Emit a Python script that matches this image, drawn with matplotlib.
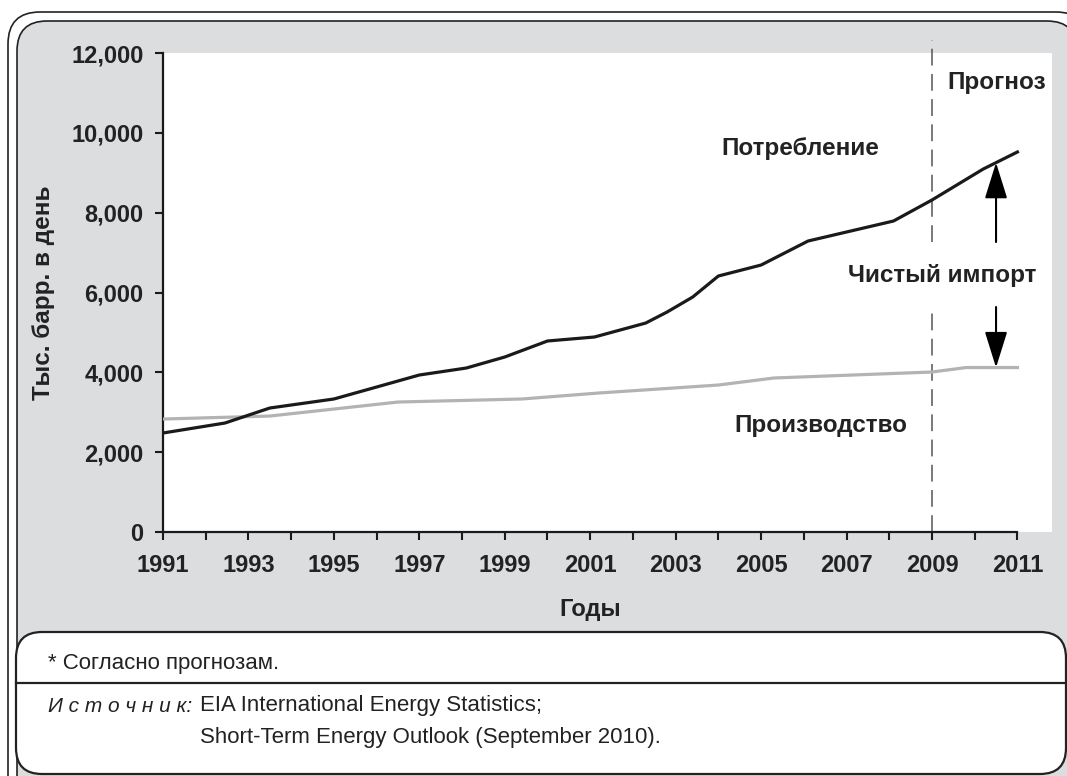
import numpy as np
import matplotlib
matplotlib.use("Agg")
import matplotlib.pyplot as plt
from matplotlib.patches import FancyBboxPatch, ArrowStyle
from matplotlib.transforms import IdentityTransform
from matplotlib.lines import Line2D

plt.rcParams['font.family'] = ['Liberation Sans', 'DejaVu Sans']

# consumption (thousand barrels per day)
cons_years = [1991, 1992.45, 1993.5, 1995, 1996, 1997, 1998.1, 1999, 2000, 2001.1,
              2002.3, 2002.8, 2003.4, 2004, 2005, 2006.1, 2008.1, 2009, 2010.2, 2011]
cons_vals = [2480, 2730, 3106, 3332, 3632, 3933, 4108, 4384, 4785, 4885,
             5235, 5511, 5887, 6413, 6688, 7290, 7791, 8317, 9093, 9520]

# production
prod_years = [1991, 1993.5, 1996.5, 1999.4, 2001.2, 2004.0, 2005.3, 2009.0, 2009.8, 2011]
prod_vals = [2830, 2905, 3256, 3332, 3482, 3682, 3858, 4008, 4120, 4120]

year_ticks = list(range(1991, 2012))
year_labels = [str(y) if (y - 1991) % 2 == 0 else '' for y in year_ticks]
val_ticks = [0, 2000, 4000, 6000, 8000, 10000, 12000]
val_labels = ['0', '2,000', '4,000', '6,000', '8,000', '10,000', '12,000']

forecast_year = 2009
arrow_year = 2010.5

W, H = 1067, 776
fig = plt.figure(figsize=(W / 100, H / 100), dpi=100)
fig.patch.set_facecolor('white')

# frames (pixel coords)
px = IdentityTransform()
fig.patches.append(FancyBboxPatch((8, -40), 1080, 804, boxstyle='round,pad=0,rounding_size=32',
                                  transform=px, facecolor='white', edgecolor='#222222',
                                  lw=1.2, zorder=-12))
fig.patches.append(FancyBboxPatch((17, -30), 1060, 785, boxstyle='round,pad=0,rounding_size=30',
                                  transform=px, facecolor='#dcdddf', edgecolor='#222222',
                                  lw=1.2, zorder=-11))
fig.patches.append(FancyBboxPatch((16, 2), 1050, 142, boxstyle='round,pad=0,rounding_size=26',
                                  transform=px, facecolor='white', edgecolor='#222222',
                                  lw=1.6, zorder=-10))
fig.lines.append(Line2D([16, 1066], [H - 683, H - 683], transform=px, color='#222222',
                        lw=1.6, zorder=-9))

ax = fig.add_axes([163 / W, (H - 532) / H, (1052 - 163) / W, (532 - 53) / H])
ax.set_facecolor('white')

ax.plot(prod_years, prod_vals, color='#b3b3b3', lw=2.3, zorder=3)
ax.plot(cons_years, cons_vals, color='#1a1a1a', lw=2.3, zorder=4)

ax.set_xlim(1991, 1991 + (1052 - 163) / 42.72)
ax.set_ylim(0, 12000)

for s in ['top', 'right']:
    ax.spines[s].set_visible(False)
for s in ['left', 'bottom']:
    ax.spines[s].set_linewidth(1.6)
    ax.spines[s].set_color('#1a1a1a')
ax.spines['bottom'].set_bounds(1991, 2011)

ax.set_xticks(year_ticks)
ax.set_xticklabels(year_labels)
ax.set_yticks(val_ticks)
ax.set_yticklabels(val_labels)
ax.tick_params(axis='both', direction='out', length=6, width=1.5, color='#1a1a1a',
               labelsize=17, labelcolor='#222222')
ax.tick_params(axis='y', pad=8)
ax.tick_params(axis='x', pad=10)
for lab in ax.get_xticklabels() + ax.get_yticklabels():
    lab.set_fontweight('bold')

ax.set_xlabel('Годы', fontsize=17, fontweight='bold', color='#222222')
ax.xaxis.set_label_coords((2001 - 1991) / ((1052 - 163) / 42.72), -0.137)
ax.set_ylabel('Тыс. барр. в день', fontsize=17.5, fontweight='bold', color='#222222')
ax.yaxis.set_label_coords(-0.122, 0.5)

# forecast dashed line, broken around the label
tail_up, tail_down = 7265, 5636
dash_kw = dict(color='#555555', lw=1.1, dashes=(11, 5.5), clip_on=False, zorder=2)
ax.plot([forecast_year, forecast_year], [tail_up, 12325], **dash_kw)
ax.plot([forecast_year, forecast_year], [0, tail_down], **dash_kw)

# net import arrows
style = ArrowStyle('-|>', head_length=1.6, head_width=0.5)
ax.annotate('', xy=(arrow_year, np.interp(arrow_year, cons_years, cons_vals)),
            xytext=(arrow_year, tail_up),
            arrowprops=dict(arrowstyle=style, mutation_scale=14, lw=1.5, color='black',
                            shrinkA=0, shrinkB=0), zorder=6)
ax.annotate('', xy=(arrow_year, np.interp(arrow_year, prod_years, prod_vals)),
            xytext=(arrow_year, tail_down),
            arrowprops=dict(arrowstyle=style, mutation_scale=14, lw=1.5, color='black',
                            shrinkA=0, shrinkB=0), zorder=6)

lab_kw = dict(fontsize=17.5, fontweight='bold', color='#222222', ha='center', va='center')
ax.text(2005.93, 9619, 'Потребление', **lab_kw)
ax.text(2009.24, 6438, 'Чистый импорт', **lab_kw)
ax.text(2006.4, 2680, 'Производство', **lab_kw)
ax.text(2010.52, 11272, 'Прогноз', **lab_kw)

# footer
fig.text(48 / W, 1 - 663 / H, '* Согласно прогнозам.', fontsize=16,
         color='#222222', va='center')
fig.text(48 / W, 1 - 706 / H, 'И с т о ч н и к:', style='italic', fontsize=15,
         color='#222222', va='center')
fig.text(200 / W, 1 - 706 / H, 'EIA International Energy Statistics;',
         fontsize=16, color='#222222', va='center')
fig.text(200 / W, 1 - 738 / H, 'Short-Term Energy Outlook (September 2010).',
         fontsize=16, color='#222222', va='center')

fig.savefig('out.png', dpi=100)
